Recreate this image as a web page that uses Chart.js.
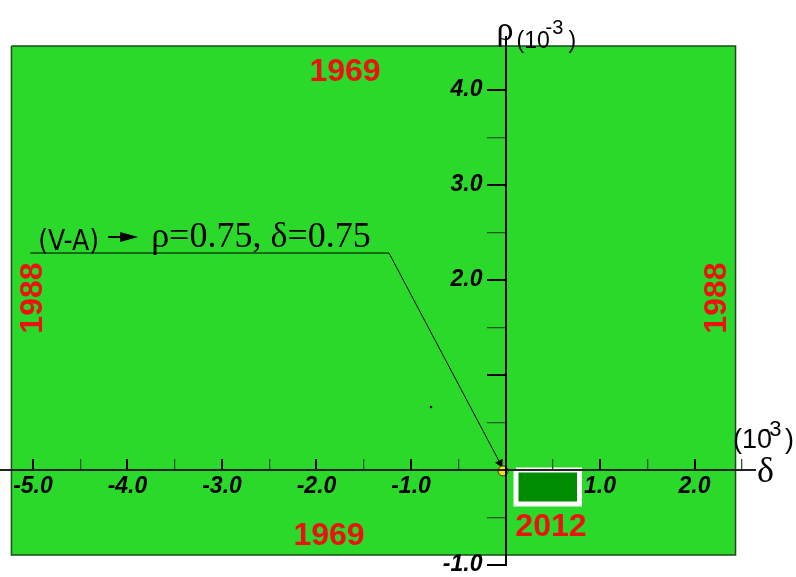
<!DOCTYPE html>
<html>
<head>
<meta charset="utf-8">
<script src="https://cdn.jsdelivr.net/npm/chart.js@4"></script>
<style>
  html, body { margin: 0; padding: 0; background: #fff; }
  #wrap { width: 796px; height: 577px; }
</style>
</head>
<body>
<div id="wrap"><canvas id="chart"></canvas></div>
<script>
// axis ranges, units of 10^-3
const deltaRange = [-5.349, 2.640];
const rhoRange = [-1.0, 4.558];

// tick marks every 0.5, labels only on some of them
const deltaTicks = [-5, -4.5, -4, -3.5, -3, -2.5, -2, -1.5, -1, -0.5, 0.5, 1, 1.5, 2, 2.5];
const deltaLabelAt = [-5, -4, -3, -2, -1, 1, 2];
const deltaLabels = ["-5.0", "-4.0", "-3.0", "-2.0", "-1.0", "1.0", "2.0"];
const rhoTicks = [-1, -0.5, 0.5, 1, 1.5, 2, 2.5, 3, 3.5, 4];
const rhoLabelAt = [-1, 2, 3, 4];
const rhoLabels = ["-1.0", "2.0", "3.0", "4.0"];

// allowed region from 1969/1988 limits, and the 2012 box
const allowedDelta = [-5.228, 2.434];
const allowedRho = [-0.895, 4.463];
const box2012Delta = [0.111, 0.783];
const box2012Rho = [-0.358, 0.0];

// V-A point, leader line from its label, stray dot
const vaPoint = [-0.026, -0.01];
const leaderDelta = [-5.03, -1.233, -0.058];
const leaderRho = [2.284, 2.284, 0.074];
const strayDot = [-0.788, 0.663];

const yearLabels = ["1969", "1969", "1988", "1988", "2012"];

const GREEN = "#2bd92b";
const RED = "#ee1111";

function topEdge(dx, dy) {
  return [{ x: dx[0], y: dy[1] }, { x: dx[1], y: dy[1] }];
}
function outline(dx, dy) {
  return [
    { x: dx[0], y: dy[1] }, { x: dx[1], y: dy[1] },
    { x: dx[1], y: dy[0] }, { x: dx[0], y: dy[0] },
    { x: dx[0], y: dy[1] }
  ];
}

// texts drawn on top, anchored through the scales
const textPlugin = {
  id: "texts",
  afterDraw(chart) {
    const { ctx, chartArea, scales: { x, y } } = chart;
    const px = v => x.getPixelForValue(v);
    const py = v => y.getPixelForValue(v);
    ctx.save();

    // year labels: [delta, rho, rotation]
    const yearPos = [[-1.698, 4.189, 0], [-1.868, -0.695, 0], [-5.0, 1.81, -90], [2.238, 1.81, -90], [0.481, -0.6, 0]];
    ctx.fillStyle = RED;
    ctx.font = "bold 32px 'Liberation Sans', Arial, sans-serif";
    ctx.textAlign = "center";
    ctx.textBaseline = "middle";
    yearLabels.forEach((t, i) => {
      const p = yearPos[i];
      ctx.save();
      ctx.translate(px(p[0]), py(p[1]));
      ctx.rotate(p[2] * Math.PI / 180);
      ctx.fillText(t, 0, 0);
      ctx.restore();
    });

    ctx.fillStyle = "#000";
    ctx.strokeStyle = "#000";
    ctx.textAlign = "left";
    ctx.textBaseline = "alphabetic";

    // rho axis title
    const ax = px(0), ay = chartArea.top;
    ctx.font = "34px 'Liberation Serif', serif";
    ctx.fillText("\u03c1", ax - 9, ay + 3);
    ctx.font = "23px 'Liberation Sans', sans-serif";
    ctx.fillText("(10", ax + 11, ay + 11);
    ctx.font = "20px 'Liberation Sans', sans-serif";
    ctx.fillText("-3", ax + 40, ay - 3);
    ctx.font = "23px 'Liberation Sans', sans-serif";
    ctx.fillText(")", ax + 63, ay + 11);

    // delta axis title
    const bx = chartArea.right, by = py(0);
    ctx.font = "27px 'Liberation Sans', sans-serif";
    ctx.fillText("(10", bx - 22, by - 22);
    ctx.font = "22px 'Liberation Sans', sans-serif";
    ctx.fillText("-3", bx + 7, by - 34);
    ctx.font = "27px 'Liberation Sans', sans-serif";
    ctx.fillText(")", bx + 30, by - 22);
    ctx.font = "36px 'Liberation Serif', serif";
    ctx.fillText("\u03b4", bx + 2, by + 12);

    // V-A label above leader line
    const lx = px(leaderDelta[0]), ly = py(leaderRho[0]);
    ctx.font = "28px 'DejaVu Sans Condensed', 'DejaVu Sans', sans-serif";
    if ("fontStretch" in ctx) ctx.fontStretch = "condensed";
    ctx.fillText("(V-A)", lx + 8, ly - 3);
    if ("fontStretch" in ctx) ctx.fontStretch = "normal";
    ctx.lineWidth = 2;
    ctx.beginPath();
    ctx.moveTo(lx + 78, ly - 16);
    ctx.lineTo(lx + 94, ly - 16);
    ctx.stroke();
    ctx.beginPath();
    ctx.moveTo(lx + 90, ly - 21);
    ctx.lineTo(lx + 108, ly - 16);
    ctx.lineTo(lx + 90, ly - 11);
    ctx.closePath();
    ctx.fill();
    ctx.font = "36px 'Liberation Serif', serif";
    ctx.fillText("\u03c1=0.75, \u03b4=0.75", lx + 121, ly - 6);

    ctx.restore();
  }
};

const ctx = document.getElementById("chart").getContext("2d");
const isMajor = c => Number.isInteger(c.tick.value);

// first dataset is painted last, so the region fill goes at the end
new Chart(ctx, {
  type: "scatter",
  data: {
    datasets: [
      { // stray dot
        data: [{ x: strayDot[0], y: strayDot[1] }],
        pointRadius: 1.3, pointBackgroundColor: "#000", pointBorderWidth: 0
      },
      { // V-A point
        data: [{ x: vaPoint[0], y: vaPoint[1] }],
        pointRadius: 5, pointBackgroundColor: "#f5e400", pointBorderColor: "#3a3000", pointBorderWidth: 1
      },
      { // leader line with arrow head
        data: leaderDelta.map((d, i) => ({ x: d, y: leaderRho[i] })),
        showLine: true, fill: false, borderColor: "#000", borderWidth: 1, tension: 0,
        pointRadius: [0, 0, 5], pointStyle: "triangle", rotation: 152,
        pointBackgroundColor: "#000", pointBorderColor: "#000", pointBorderWidth: 0
      },
      { // 2012 box outline
        data: outline(box2012Delta, box2012Rho),
        showLine: true, fill: false, borderColor: "#ffffff", borderWidth: 5,
        borderJoinStyle: "miter", pointRadius: 0
      },
      { // 2012 box
        data: topEdge(box2012Delta, box2012Rho),
        showLine: true, fill: { value: box2012Rho[0] },
        backgroundColor: "#008c00", borderWidth: 0, pointRadius: 0
      },
      { // allowed region border
        data: outline(allowedDelta, allowedRho),
        showLine: true, fill: false, borderColor: "#174d17", borderWidth: 1.5, pointRadius: 0
      },
      { // allowed region fill
        data: topEdge(allowedDelta, allowedRho),
        showLine: true, fill: { value: allowedRho[0] },
        backgroundColor: GREEN, borderWidth: 0, pointRadius: 0
      }
    ]
  },
  options: {
    responsive: true,
    maintainAspectRatio: false,
    animation: false,
    layout: { autoPadding: false, padding: { left: 0, right: 41, top: 37, bottom: 12 } },
    plugins: { legend: { display: false }, tooltip: { enabled: false } },
    scales: {
      x: {
        type: "linear",
        min: deltaRange[0], max: deltaRange[1],
        position: { y: 0 },
        afterBuildTicks: s => { s.ticks = deltaTicks.map(v => ({ value: v })); },
        grid: {
          z: 1,
          drawOnChartArea: false,
          tickLength: -12,
          color: c => isMajor(c) ? "#000" : "#1f5a1f",
          lineWidth: c => isMajor(c) ? 2 : 1.3
        },
        border: { display: true, color: "#222", width: 2, z: 1 },
        ticks: {
          z: 1,
          autoSkip: false, maxRotation: 0, padding: 0, color: "#000",
          // tall line box pushes the labels below the axis without padding the layout
          font: { family: "'Liberation Sans', Arial, sans-serif", size: 23, weight: "bold", style: "italic", lineHeight: "58px" },
          callback: v => { const i = deltaLabelAt.indexOf(v); return i < 0 ? "" : deltaLabels[i]; }
        }
      },
      y: {
        type: "linear",
        min: rhoRange[0], max: rhoRange[1],
        position: { x: 0 },
        afterBuildTicks: s => { s.ticks = rhoTicks.map(v => ({ value: v })); },
        grid: {
          z: 1,
          drawOnChartArea: false,
          tickLength: 18,
          color: c => isMajor(c) ? "#000" : "#1f5a1f",
          lineWidth: c => isMajor(c) ? 2 : 1.3
        },
        border: { display: true, color: "#000", width: 2, z: 1 },
        ticks: {
          z: 1,
          autoSkip: false, padding: 0, color: "#000",
          font: { family: "'Liberation Sans', Arial, sans-serif", size: 23, weight: "bold", style: "italic", lineHeight: 1 },
          // labels sit flush on a centred axis, so pad them off the tick marks
          callback: v => { const i = rhoLabelAt.indexOf(v); return i < 0 ? "" : rhoLabels[i] + "\u2002\u2002"; }
        }
      }
    }
  },
  plugins: [textPlugin]
});
</script>
</body>
</html>
